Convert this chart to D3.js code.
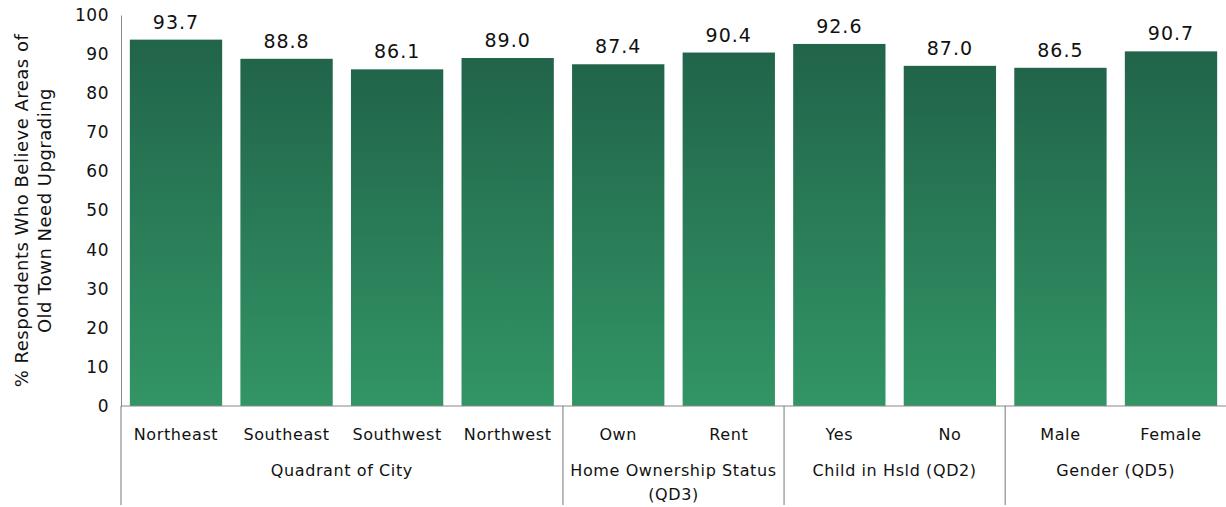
<!DOCTYPE html>
<html>
<head>
<meta charset="utf-8">
<script src="https://cdn.jsdelivr.net/npm/d3@7"></script>
<style>
  body { margin: 0; background: #fff; }
  svg { display: block; font-family: "DejaVu Sans", sans-serif; }
</style>
</head>
<body>
<div id="chart"></div>
<script>
const categories = ["Northeast", "Southeast", "Southwest", "Northwest", "Own", "Rent", "Yes", "No", "Male", "Female"];
const values = [93.7, 88.8, 86.1, 89.0, 87.4, 90.4, 92.6, 87.0, 86.5, 90.7];
const groups = [
    { label: ["Quadrant of City"], start: 0, end: 3 },
    { label: ["Home Ownership Status", "(QD3)"], start: 4, end: 5 },
    { label: ["Child in Hsld (QD2)"], start: 6, end: 7 },
    { label: ["Gender (QD5)"], start: 8, end: 9 }
];
const yTicks = [0, 10, 20, 30, 40, 50, 60, 70, 80, 90, 100];
const yTitle = ["% Respondents Who Believe Areas of", "Old Town Need Upgrading"];

const width = 1226;
const height = 507;
const margin = { top: 15, right: 0, bottom: 101, left: 121 };

const svg = d3.select("#chart").append("svg")
    .attr("width", width)
    .attr("height", height);

// gradient for bars
const defs = svg.append("defs");
const grad = defs.append("linearGradient")
    .attr("id", "barGrad")
    .attr("x1", 0).attr("y1", 0).attr("x2", 0).attr("y2", 1);
grad.append("stop").attr("offset", "0%").attr("stop-color", "#21644a");
grad.append("stop").attr("offset", "100%").attr("stop-color", "#329565");

const x = d3.scaleBand()
    .domain(categories)
    .range([margin.left, width - margin.right])
    .paddingInner(0.165)
    .paddingOuter(0.08);

const y = d3.scaleLinear()
    .domain([0, 100])
    .range([height - margin.bottom, margin.top]);

// bars
svg.selectAll("rect.bar")
    .data(values)
    .join("rect")
    .attr("class", "bar")
    .attr("x", (d, i) => x(categories[i]))
    .attr("y", d => y(d))
    .attr("width", x.bandwidth())
    .attr("height", d => y(0) - y(d))
    .attr("fill", "url(#barGrad)");

// value labels
svg.selectAll("text.val")
    .data(values)
    .join("text")
    .attr("class", "val")
    .attr("x", (d, i) => x(categories[i]) + x.bandwidth() / 2)
    .attr("y", d => y(d) - 11)
    .attr("text-anchor", "middle")
    .attr("font-size", 19)
    .attr("letter-spacing", 1)
    .attr("fill", "#111")
    .text(d => d.toFixed(1));

// y axis
const yAxis = svg.append("g")
    .attr("transform", `translate(${margin.left},0)`)
    .call(d3.axisLeft(y).tickValues(yTicks).tickSize(0).tickPadding(12));
yAxis.select(".domain").attr("stroke", "#888");
yAxis.selectAll("text")
    .attr("font-size", 17)
    .attr("letter-spacing", 0.5)
    .attr("fill", "#111")
    .attr("font-family", "DejaVu Sans, sans-serif");

// x baseline
svg.append("line")
    .attr("x1", margin.left).attr("x2", width)
    .attr("y1", y(0)).attr("y2", y(0))
    .attr("stroke", "#888");

// category labels
svg.selectAll("text.cat")
    .data(categories)
    .join("text")
    .attr("class", "cat")
    .attr("x", d => x(d) + x.bandwidth() / 2)
    .attr("y", y(0) + 34)
    .attr("text-anchor", "middle")
    .attr("font-size", 16)
    .attr("letter-spacing", 0.6)
    .attr("fill", "#111")
    .text(d => d);

// group separators and labels
const step = x.step();
const sepX = i => x(categories[i]) - step * x.paddingInner() / 2;
const boundaries = [margin.left, ...groups.slice(1).map(g => sepX(g.start))];
svg.selectAll("line.sep")
    .data(boundaries)
    .join("line")
    .attr("class", "sep")
    .attr("x1", d => d).attr("x2", d => d)
    .attr("y1", y(0)).attr("y2", height - 2)
    .attr("stroke", "#777");

groups.forEach(g => {
    const cx = (x(categories[g.start]) + x(categories[g.end]) + x.bandwidth()) / 2;
    g.label.forEach((line, k) => {
        svg.append("text")
            .attr("x", cx)
            .attr("y", y(0) + 70 + k * 24)
            .attr("text-anchor", "middle")
            .attr("font-size", 16)
            .attr("letter-spacing", 0.6)
            .attr("fill", "#111")
            .text(line);
    });
});

// y title
const midY = (y(0) + y(100)) / 2;
yTitle.forEach((line, k) => {
    svg.append("text")
        .attr("transform", `translate(${28 + k * 23},${midY}) rotate(-90)`)
        .attr("text-anchor", "middle")
        .attr("font-size", 18)
        .attr("letter-spacing", 0.5)
        .attr("fill", "#111")
        .text(line);
});
</script>
</body>
</html>
